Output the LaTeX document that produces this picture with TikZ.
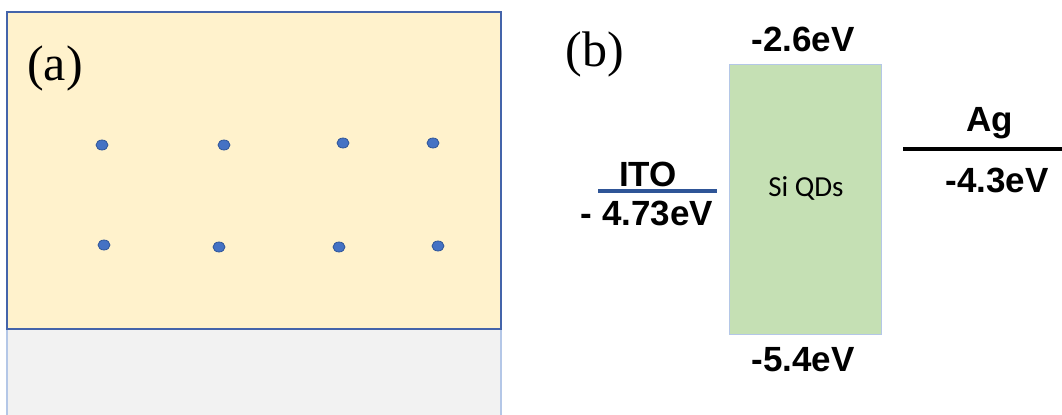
\documentclass[tikz,border=0pt]{standalone}
\usepackage{fontspec}
\setmainfont{Liberation Serif}
\setsansfont{Liberation Sans}
\newfontfamily\calibri{Carlito}
\usetikzlibrary{positioning, shapes.geometric}
\definecolor{layerfill}{RGB}{255, 242, 204}
\definecolor{subfill}{RGB}{242, 242, 242}
\definecolor{frameblue}{RGB}{68, 100, 170}
\definecolor{paleblue}{RGB}{180, 199, 231}
\definecolor{dotblue}{RGB}{68, 114, 196}
\definecolor{qdfill}{RGB}{197, 224, 180}
\definecolor{itoblue}{RGB}{47, 85, 151}

\begin{document}
\begin{tikzpicture}[x=0.5pt, y=-0.5pt,
        qd/.style={ellipse, inner sep=0pt, minimum width=6pt,
            minimum height=5pt, fill=dotblue, draw=itoblue, line width=0.4pt},
        level/.style={font=\sffamily\bfseries, text=black,
            inner sep=0pt}]
    \useasboundingbox (0, 0) rectangle (1062, 414);
    % (a) film on substrate
    \fill[subfill] (7, 329) rectangle (501, 420);
    \draw[paleblue, line width=0.6pt] (7, 329) -- (7, 420)
        (501, 329) -- (501, 420);
    \fill[layerfill, draw=frameblue, line width=0.8pt]
        (7, 12) rectangle (501, 329);
    \node[font=\fontsize{25}{28}\selectfont] (lbla) at (55, 68) {(a)};
    \foreach \px/\py [count=\i] in {102/145, 224/145, 343/143, 433/143,
            104/245, 219/247, 339/247, 438/246}
        \node[qd] (dot\i) at (\px, \py) {};
    % (b) band diagram
    \node[font=\fontsize{25}{28}\selectfont] (lblb) at (595, 54) {(b)};
    \fill[qdfill, draw=paleblue, line width=0.5pt]
        (729, 64) rectangle (881, 334);
    \node[font=\calibri\fontsize{14.5}{16}\selectfont] (qds) at (806, 188)
        {Si QDs};
    \node[level, font=\sffamily\bfseries\fontsize{17.5}{20}\selectfont]
        (cb) at (803, 39) {-2.6eV};
    \node[level, font=\sffamily\bfseries\fontsize{17.5}{20}\selectfont]
        (vb) at (803, 360) {-5.4eV};
    \coordinate (itoL) at (598, 191);
    \coordinate (itoR) at (717, 191);
    \draw[itoblue, line width=2pt] (itoL) -- (itoR);
    \node[level, font=\sffamily\bfseries\fontsize{17.5}{20}\selectfont]
        (ito) at (648, 174) {ITO};
    \node[level, font=\sffamily\bfseries\fontsize{17.5}{20}\selectfont]
        (itoev) at (647, 213) {- 4.73eV};
    \coordinate (agL) at (903, 149);
    \coordinate (agR) at (1062, 149);
    \draw[black, line width=2pt] (agL) -- (agR);
    \node[level, font=\sffamily\bfseries\fontsize{17.5}{20}\selectfont]
        (ag) at (990, 123) {Ag};
    \node[level, font=\sffamily\bfseries\fontsize{17.5}{20}\selectfont]
        (agev) at (997, 180) {-4.3eV};
\end{tikzpicture}
\end{document}
